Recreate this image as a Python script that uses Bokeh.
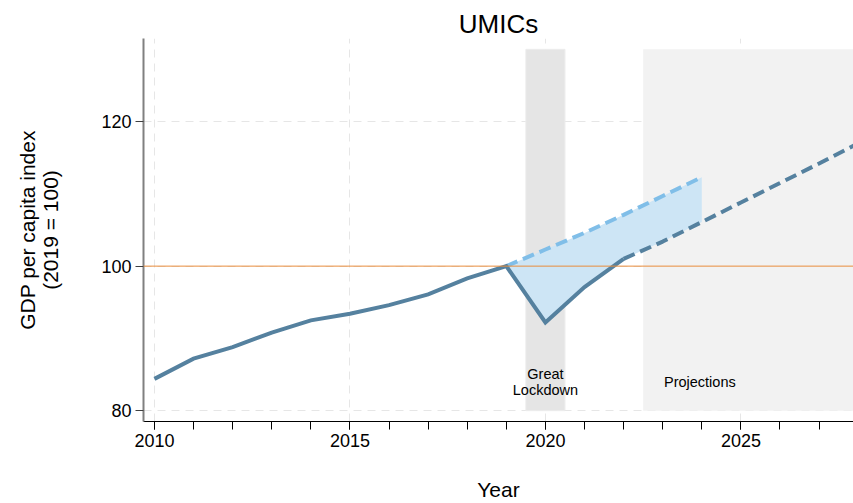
from bokeh.plotting import figure
from bokeh.models import Range1d, FixedTicker, Span
from bokeh.core.properties import value
from bokeh.embed import file_html
from bokeh.resources import INLINE

# ---- data ----
years_actual = [2010, 2011, 2012, 2013, 2014, 2015, 2016, 2017, 2018, 2019, 2020, 2021, 2022]
gdp_actual = [84.4, 87.2, 88.8, 90.8, 92.5, 93.4, 94.6, 96.1, 98.3, 100.0, 92.2, 97.1, 101.0]
years_proj = [2022, 2023, 2024, 2025, 2026, 2027, 2028]
gdp_proj = [101.0, 103.4, 106.1, 108.8, 111.5, 114.2, 117.0]
years_pre = [2019, 2020, 2021, 2022, 2023, 2024]
gdp_pre = [100.0, 102.3, 104.6, 107.1, 109.7, 112.3]
gdp_low = [100.0, 92.2, 97.1, 101.0, 103.4, 106.1]
x_ticks = [2010, 2015, 2020, 2025]
y_ticks = [80, 100, 120]
lockdown = (2019.5, 2020.5)
projections_start = 2022.5
shade_top = 130
shade_bottom = 80
baseline = 100

FONT = "Liberation Sans"

p = figure(width=853, height=503, output_backend="svg", toolbar_location=None,
           x_range=Range1d(2009.72, 2027.88), y_range=Range1d(78.5, 131.5),
           min_border_left=143, min_border_right=0, min_border_top=38, min_border_bottom=82)
p.outline_line_color = None
p.background_fill_color = "white"

p.title.text = "UMICs"
p.title.align = "center"
p.title.text_font = FONT
p.title.text_font_size = "26px"
p.title.text_font_style = "normal"
p.title.text_color = "black"
p.title.offset = 8
p.title.standoff = 0

# shaded regions
p.quad(left=[lockdown[0]], right=[lockdown[1]], bottom=[shade_bottom], top=[shade_top],
       fill_color="#e5e5e5", line_color="#ececec", line_width=1)
p.quad(left=[projections_start], right=[2028.5], bottom=[shade_bottom], top=[shade_top],
       fill_color="#f2f2f2", line_color=None)

# baseline
p.add_layout(Span(location=baseline, dimension="width", line_color="#e98c3c", line_width=1))

# fill between
p.varea(x=years_pre, y1=gdp_low, y2=gdp_pre, fill_color="#cde5f5")

# lines
p.line(years_pre, gdp_pre, line_color="#80bee8", line_width=4, line_dash="12 6")
p.line(years_proj, gdp_proj, line_color="#55819f", line_width=4, line_dash="12 6")
p.line(years_actual, gdp_actual, line_color="#55819f", line_width=4, line_join="miter")

# annotations
p.text(x=[2020.0], y=[84.0], text=["Great\nLockdown"], text_align="center", text_baseline="middle",
       text_font=value(FONT), text_font_size="14.5px", text_color="black", text_line_height=1.0)
p.text(x=[2023.95], y=[84.0], text=["Projections"], text_align="center", text_baseline="middle",
       text_font=value(FONT), text_font_size="14.5px", text_color="black")

# axes
xa = p.xaxis[0]
xa.ticker = FixedTicker(ticks=x_ticks, minor_ticks=list(range(2010, 2029)))
xa.axis_label = "Year"
xa.axis_label_text_font = FONT
xa.axis_label_text_font_size = "21px"
xa.axis_label_text_font_style = "normal"
xa.axis_label_text_color = "black"
xa.axis_label_standoff = 28
xa.major_label_text_font = FONT
xa.major_label_text_font_size = "18px"
xa.major_label_text_color = "black"
xa.major_label_standoff = 4
xa.major_tick_out = 8
xa.major_tick_in = 0
xa.minor_tick_out = 8
xa.minor_tick_in = 0
xa.axis_line_color = "black"
xa.major_tick_line_color = "black"
xa.minor_tick_line_color = "black"

ya = p.yaxis[0]
ya.ticker = FixedTicker(ticks=y_ticks)
ya.axis_label = "GDP per capita index\n(2019 = 100)"
ya.axis_label_text_font = FONT
ya.axis_label_text_font_size = "21px"
ya.axis_label_text_font_style = "normal"
ya.axis_label_text_color = "black"
ya.axis_label_text_line_height = 1.0
ya.axis_label_standoff = 36
ya.major_label_text_font = FONT
ya.major_label_text_font_size = "18px"
ya.major_label_text_color = "black"
ya.major_label_standoff = 4
ya.major_label_orientation = "horizontal"
ya.major_tick_out = 8
ya.major_tick_in = 0
ya.minor_tick_line_color = None
ya.axis_line_color = "#808080"
ya.axis_line_width = 2
ya.major_tick_line_color = "#404040"

for g in (p.xgrid[0], p.ygrid[0]):
    g.grid_line_color = "#e6e6e6"
    g.grid_line_dash = "8 6"
    g.grid_line_width = 1

open("out.html", "w").write(file_html(p, INLINE))
